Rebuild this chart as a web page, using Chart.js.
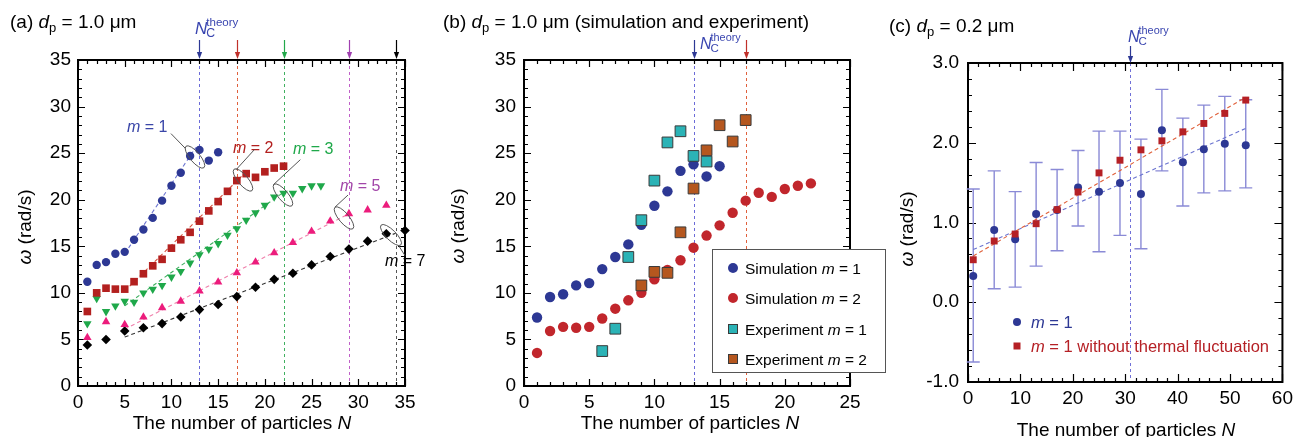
<!DOCTYPE html>
<html><head><meta charset="utf-8">
<script src="https://cdn.jsdelivr.net/npm/chart.js@4.4.0/dist/chart.umd.min.js"></script>
<style>
html,body{margin:0;padding:0;background:#fff;overflow:hidden;width:1298px;height:437px}
canvas{position:absolute;top:0}
</style></head><body>
<canvas id="ca" width="430" height="437" style="left:0px"></canvas>
<canvas id="cb" width="460" height="437" style="left:430px"></canvas>
<canvas id="cc" width="438" height="437" style="left:860px"></canvas>
<script>
// ---------------- Panel (a) data ----------------
const aN1 = [1,2,3,4,5,6,7,8,9,10,11,12,13,14,15];
const aW1 = [11.2,13.0,13.3,14.2,14.4,15.7,16.8,18.05,19.9,21.5,22.9,24.7,25.35,24.2,25.1];
const aN2 = [1,2,3,4,5,6,7,8,9,10,11,12,13,14,15,16,17,18,19,20,21,22];
const aW2 = [8.0,10.0,10.5,10.4,10.4,11.2,12.05,12.9,13.6,14.8,15.7,16.5,17.7,18.8,19.8,20.9,22.05,22.8,22.4,23.0,23.4,23.6];
const aN3 = [1,2,3,4,5,6,7,8,9,10,11,12,13,14,15,16,17,18,19,20,21,22,23,24,25,26];
const aW3 = [6.7,9.4,8.0,8.6,9.1,9.0,10.0,10.4,10.8,11.7,12.3,13.2,14.1,14.7,15.3,16.2,16.9,17.8,18.6,19.4,20.3,20.7,20.7,21.2,21.5,21.5];
const aN5 = [1,3,5,7,9,11,13,15,17,19,21,23,25,27,29,31,33];
const aW5 = [5.2,6.9,6.6,7.4,8.4,9.1,10.2,11.15,12.15,13.3,14.3,15.4,16.6,17.7,18.5,18.9,19.4];
const aN7 = [1,3,5,7,9,11,13,15,17,19,21,23,25,27,29,31,33,35];
const aW7 = [4.4,5.0,5.9,6.25,6.7,7.4,8.2,8.75,9.6,10.6,11.45,12.1,13.0,13.9,14.7,15.55,16.35,16.7];
const aFit1 = [[5,14.2],[12.6,25.6]];
const aFit2 = [[5,10.2],[17.5,22.5]];
const aFit3 = [[5,8.6],[22,20.8]];
const aFit5 = [[5,6.1],[29,18.5]];
const aFit7 = [[5,5.25],[34,16.4]];
const aNc = [13,17,22,29,34];
const aXTicks = [0,35,5,1];   // min, max, major, minor
const aYTicks = [0,35,5,1];

// ---------------- Panel (b) data ----------------
const bN1 = [1,2,3,4,5,6,7,8,9,10,11,12,13,14,15];
const bW1 = [7.35,9.55,9.85,10.8,11.05,12.55,13.85,15.2,17.3,19.35,20.9,23.1,23.8,22.5,23.6];
const bN2 = [1,2,3,4,5,6,7,8,9,10,11,12,13,14,15,16,17,18,19,20,21,22];
const bW2 = [3.55,5.9,6.35,6.25,6.35,7.25,8.3,9.2,10.0,11.45,12.45,13.5,14.85,16.15,17.25,18.6,19.9,20.75,20.3,21.15,21.5,21.75];
const bEN1 = [6,7,8,9,10,11,12,13,14];
const bEW1 = [3.75,6.15,13.85,17.8,22.05,26.15,27.35,24.7,24.1];
const bEN2 = [9,10,11,12,13,14,15,16,17];
const bEW2 = [10.8,12.25,12.15,16.5,21.2,25.3,28.0,26.25,28.55];
const bNc = [13,17];
const bXTicks = [0,25,5,1];
const bYTicks = [0,35,5,1];

// ---------------- Panel (c) data ----------------
const cN = [1,5,9,13,17,21,25,29,33,37,41,45,49,53];
const cW1 = [0.33,0.905,0.79,1.107,1.157,1.438,1.387,1.496,1.358,2.158,1.756,1.919,1.986,1.97];
const cHi = [1.42,1.647,1.387,1.752,1.664,1.903,2.146,2.146,2.045,2.669,2.309,2.472,2.581,2.54];
const cLo = [-0.75,0.169,0.19,0.453,0.646,0.956,0.633,0.839,0.671,1.647,1.207,1.371,1.396,1.434];
const cW2 = [0.533,0.768,0.855,0.985,1.161,1.383,1.622,1.781,1.911,2.024,2.137,2.242,2.368,2.535];
const cFit1 = [[1,0.66],[53,2.18]];
const cFit2 = [[1,0.58],[53,2.57]];
const cNc = [31];
const cXTicks = [0,60,10,2];
const cYTicks = [-1,3,1,0.2];

// ---------------- helpers ----------------
const FF = '"Liberation Sans", Arial, Helvetica, sans-serif';
const BLUE = '#2d3894', RED = '#b3201f', GREEN = '#1fa84a', PINK = '#ec1c7c', PURPLE = '#a246a8';
function pts(xs, ys){ return xs.map((x,i)=>({x:x, y:ys[i]})); }
function seg(a){ return a.map(p=>({x:p[0], y:p[1]})); }
function font(size, it){ return (it?'italic ':'') + size + 'px ' + FF; }
function rich(ctx, parts, x, y, align){
  let w = 0;
  parts.forEach(p=>{ ctx.font = font(p.s, p.i); w += ctx.measureText(p.t).width; });
  if (align === 'center') x -= w/2;
  ctx.textAlign = 'left'; ctx.textBaseline = 'alphabetic';
  parts.forEach(p=>{
    ctx.font = font(p.s, p.i); ctx.fillStyle = p.c || '#000';
    ctx.fillText(p.t, x, y + (p.dy||0)); x += ctx.measureText(p.t).width;
  });
}
function ncLabel(ctx, x, base, size, color){
  ctx.fillStyle = color; ctx.textAlign='left'; ctx.textBaseline='alphabetic';
  ctx.font = font(size, true); ctx.fillText('N', x, base);
  const w = ctx.measureText('N').width - 1;
  ctx.font = font(size*0.68, false); ctx.fillText('theory', x + w, base - size*0.5);
  ctx.font = font(size*0.72, false); ctx.fillText('C', x + w, base + size*0.2);
}
function arrow(ctx, px, y1, y2, color){
  ctx.strokeStyle = color; ctx.fillStyle = color; ctx.lineWidth = 1.2; ctx.setLineDash([]);
  ctx.beginPath(); ctx.moveTo(px, y1); ctx.lineTo(px, y2-5); ctx.stroke();
  ctx.beginPath(); ctx.moveTo(px-2.6, y2-7); ctx.lineTo(px+2.6, y2-7); ctx.lineTo(px, y2); ctx.closePath(); ctx.fill();
}
function frameAndTicks(chart, xt, yt, majL, minL){
  const {ctx, chartArea:ca, scales:{x, y}} = chart;
  ctx.save(); ctx.strokeStyle = '#000'; ctx.setLineDash([]);
  ctx.lineWidth = 1.2;
  let n = Math.round((xt[1]-xt[0])/xt[3]), r = Math.round(xt[2]/xt[3]);
  for (let i=0;i<=n;i++){
    const px = Math.round(x.getPixelForValue(xt[0]+i*xt[3])) + 0.5;
    const L = (i % r === 0) ? majL : minL;
    ctx.beginPath(); ctx.moveTo(px, ca.bottom); ctx.lineTo(px, ca.bottom-L);
    ctx.moveTo(px, ca.top); ctx.lineTo(px, ca.top+L); ctx.stroke();
  }
  n = Math.round((yt[1]-yt[0])/yt[3]); r = Math.round(yt[2]/yt[3]);
  for (let i=0;i<=n;i++){
    const py = Math.round(y.getPixelForValue(yt[0]+i*yt[3])) + 0.5;
    const L = (i % r === 0) ? majL : minL;
    ctx.beginPath(); ctx.moveTo(ca.left, py); ctx.lineTo(ca.left+L, py);
    ctx.moveTo(ca.right, py); ctx.lineTo(ca.right-L, py); ctx.stroke();
  }
  ctx.lineWidth = 2;
  ctx.strokeRect(ca.left, ca.top, ca.right-ca.left, ca.bottom-ca.top);
  ctx.restore();
}
function vlines(chart, list){
  const {ctx, chartArea:ca, scales:{x}} = chart;
  ctx.save(); ctx.lineWidth = 1; ctx.setLineDash([3,3]);
  list.forEach(v=>{
    const px = Math.round(x.getPixelForValue(v.n)) + 0.5;
    ctx.strokeStyle = v.c; ctx.beginPath(); ctx.moveTo(px, ca.top); ctx.lineTo(px, ca.bottom); ctx.stroke();
  });
  ctx.restore();
}
function yTitle(ctx, cx, cy){
  ctx.save(); ctx.translate(cx, cy); ctx.rotate(-Math.PI/2);
  rich(ctx, [{t:'\u03C9', s:19, i:true}, {t:' (rad/s)', s:19}], 0, 6, 'center');
  ctx.restore();
}
function xTitle(ctx, cx, base){
  rich(ctx, [{t:'The number of particles ', s:19}, {t:'N', s:19, i:true}], cx, base, 'center');
}
function fitDS(a, color){
  return {data: seg(a), showLine:true, pointRadius:0, borderColor: color, borderWidth:1.1, borderDash:[4,3], clip:false};
}
function mkScales(xt, yt, yW, xH, xPad, yPad, yFmt){
  return {
    x: {type:'linear', min:xt[0], max:xt[1],
        ticks:{stepSize:xt[2], font:{size:19, family:FF}, color:'#000', padding:xPad, maxRotation:0, autoSkip:false},
        grid:{display:false, drawTicks:false}, border:{display:false},
        afterFit(s){ s.height = xH; }},
    y: {type:'linear', min:yt[0], max:yt[1],
        ticks:{stepSize:yt[2], font:{size:19, family:FF}, color:'#000', padding:yPad, autoSkip:false,
               callback: yFmt || (v=>v)},
        grid:{display:false, drawTicks:false}, border:{display:false},
        afterFit(s){ s.width = yW; }}
  };
}
const common = {responsive:false, animation:false, devicePixelRatio:1, events:[],
  plugins:{legend:{display:false}, tooltip:{enabled:false}}};

// ---------------- Chart (a) ----------------
const annA = [
  {t:'1', c:'#3a46a8', lx:5.24, ly:27.3, l:[[9.95,27.1],[11.5,25.5]], e:[12.52,24.59], ang:50},
  {t:'2', c:RED, lx:16.59, ly:25.0, l:[[18.9,25.4],[16.9,23.2]], e:[17.66,22.12], ang:50},
  {t:'3', c:GREEN, lx:23.0, ly:24.9, l:[[23.8,24.3],[20.9,21.6]], e:[21.94,20.5], ang:50},
  {t:'5', c:PURPLE, lx:28.04, ly:20.94, l:[[28.9,20.5],[27.5,19.2]], e:[28.47,18.04], ang:50},
  {t:'7', c:'#000', lx:32.86, ly:12.88, l:[[34.3,15.1],[35.0,14.0]], e:[33.5,16.21], ang:45}
];
new Chart(document.getElementById('ca'), {
  type:'scatter',
  data:{datasets:[
    {data:pts(aN1,aW1), pointStyle:'circle', pointRadius:4.2, backgroundColor:BLUE, borderWidth:0, clip:false},
    {data:pts(aN2,aW2), pointStyle:'rect', pointRadius:5.4, backgroundColor:RED, borderWidth:0, clip:false},
    {data:pts(aN3,aW3), pointStyle:'triangle', rotation:180, pointRadius:4.9, backgroundColor:GREEN, borderWidth:0, clip:false},
    {data:pts(aN5,aW5), pointStyle:'triangle', pointRadius:4.9, backgroundColor:PINK, borderWidth:0, clip:false},
    {data:pts(aN7,aW7), pointStyle:'rectRot', pointRadius:4.8, backgroundColor:'#000', borderWidth:0, clip:false},
    fitDS(aFit1,'#6b74d0'), fitDS(aFit2,'#d8503c'), fitDS(aFit3,'#3fb060'), fitDS(aFit5,'#f080ac'), fitDS(aFit7,'#333')
  ]},
  options:Object.assign({}, common, {
    layout:{padding:{left:0, top:60, right:25, bottom:0}},
    scales: mkScales(aXTicks, aYTicks, 78, 51, 5, 7)
  }),
  plugins:[{
    id:'decoA',
    beforeDatasetsDraw(chart){
      const cols = ['#6b6bd8','#e0603c','#40b060','#c060c8','#555'];
      vlines(chart, aNc.map((n,i)=>({n:n, c:cols[i]})));
      frameAndTicks(chart, aXTicks, aYTicks, 7, 4);
    },
    afterDraw(chart){
      const {ctx, scales:{x,y}} = chart;
      ctx.save();
      rich(ctx, [{t:'(a) ', s:19}, {t:'d', s:19, i:true}, {t:'p', s:13, dy:4}, {t:' = 1.0 \u03BCm', s:19}], 10, 28);
      const acol = [BLUE,'#c0302a','#22a84a','#a040b0','#000'];
      aNc.forEach((n,i)=>arrow(ctx, Math.round(x.getPixelForValue(n))+0.5, 40, 59, acol[i]));
      ncLabel(ctx, 195, 34, 17, '#3a46b0');
      yTitle(ctx, 25, 227);
      xTitle(ctx, 242, 429);
      annA.forEach(a=>{
        rich(ctx, [{t:'m', s:16, i:true, c:a.c}, {t:' = '+a.t, s:16, c:a.c}], x.getPixelForValue(a.lx), y.getPixelForValue(a.ly));
        ctx.strokeStyle = '#555'; ctx.lineWidth = 1; ctx.setLineDash([]);
        ctx.beginPath(); ctx.moveTo(x.getPixelForValue(a.l[0][0]), y.getPixelForValue(a.l[0][1]));
        ctx.lineTo(x.getPixelForValue(a.l[1][0]), y.getPixelForValue(a.l[1][1])); ctx.stroke();
        ctx.beginPath(); ctx.ellipse(x.getPixelForValue(a.e[0]), y.getPixelForValue(a.e[1]), 14, 5, a.ang*Math.PI/180, 0, 2*Math.PI); ctx.stroke();
      });
      ctx.restore();
    }
  }]
});

// ---------------- Chart (b) ----------------
const TEAL = '#2bb3b6', BROWN = '#b5571f', RED2 = '#c1262c';
new Chart(document.getElementById('cb'), {
  type:'scatter',
  data:{datasets:[
    {data:pts(bEN1,bEW1), pointStyle:'rect', pointRadius:7.6, backgroundColor:TEAL, borderColor:'#3a3a3a', borderWidth:1, clip:false},
    {data:pts(bEN2,bEW2), pointStyle:'rect', pointRadius:7.6, backgroundColor:BROWN, borderColor:'#3a3a3a', borderWidth:1, clip:false},
    {data:pts(bN1,bW1), pointStyle:'circle', pointRadius:5.2, backgroundColor:BLUE, borderWidth:0, clip:false},
    {data:pts(bN2,bW2), pointStyle:'circle', pointRadius:5.2, backgroundColor:RED2, borderWidth:0, clip:false}
  ]},
  options:Object.assign({}, common, {
    layout:{padding:{left:0, top:60, right:40, bottom:0}},
    scales: mkScales(bXTicks, bYTicks, 94, 51, 5, 8)
  }),
  plugins:[{
    id:'decoB',
    beforeDatasetsDraw(chart){
      vlines(chart, [{n:bNc[0], c:'#6b6bd8'}, {n:bNc[1], c:'#e0603c'}]);
      frameAndTicks(chart, bXTicks, bYTicks, 7, 4);
    },
    afterDraw(chart){
      const {ctx, scales:{x}} = chart;
      ctx.save();
      rich(ctx, [{t:'(b) ', s:19}, {t:'d', s:19, i:true}, {t:'p', s:13, dy:4}, {t:' = 1.0 \u03BCm (simulation and experiment)', s:19}], 13, 28);
      arrow(ctx, Math.round(x.getPixelForValue(bNc[0]))+0.5, 40, 59, BLUE);
      arrow(ctx, Math.round(x.getPixelForValue(bNc[1]))+0.5, 40, 59, '#c0302a');
      ncLabel(ctx, 270, 49, 16, '#3a46b0');
      yTitle(ctx, 28, 226);
      xTitle(ctx, 260, 429);
      // legend box
      ctx.fillStyle = '#fff'; ctx.fillRect(282, 249, 173, 123);
      ctx.strokeStyle = '#555'; ctx.lineWidth = 1; ctx.setLineDash([]);
      ctx.strokeRect(282.5, 249.5, 173, 123);
      const rows = [['Simulation ','1','c',BLUE],['Simulation ','2','c',RED2],['Experiment ','1','s',TEAL],['Experiment ','2','s',BROWN]];
      const ys = [268, 298, 329, 359];
      rows.forEach((r,i)=>{
        const cy = ys[i];
        if (r[2]==='c'){ ctx.fillStyle = r[3]; ctx.beginPath(); ctx.arc(303, cy, 5, 0, 2*Math.PI); ctx.fill(); }
        else { ctx.fillStyle = r[3]; ctx.fillRect(298, cy-5, 10, 10); ctx.strokeStyle='#3a3a3a'; ctx.strokeRect(298.5, cy-4.5, 9, 9); }
        rich(ctx, [{t:r[0], s:15.5}, {t:'m', s:15.5, i:true}, {t:' = '+r[1], s:15.5}], 315, cy+5.5);
      });
      ctx.restore();
    }
  }]
});

// ---------------- Chart (c) ----------------
const RED3 = '#b52025';
new Chart(document.getElementById('cc'), {
  type:'scatter',
  data:{datasets:[
    {data:pts(cN,cW2), pointStyle:'rect', pointRadius:4.9, backgroundColor:RED3, borderWidth:0, clip:false},
    {data:pts(cN,cW1), pointStyle:'circle', pointRadius:4, backgroundColor:BLUE, borderWidth:0, clip:false},
    fitDS(cFit2,'#e0603a'), fitDS(cFit1,'#6b74d0')
  ]},
  options:Object.assign({}, common, {
    layout:{padding:{left:0, top:63, right:12, bottom:0}},
    scales: mkScales(cXTicks, cYTicks, 108, 55, 5, 9, v=>v.toFixed(1))
  }),
  plugins:[{
    id:'decoC',
    beforeDatasetsDraw(chart){
      const {ctx, scales:{x,y}} = chart;
      vlines(chart, [{n:cNc[0], c:'#7070d8'}]);
      frameAndTicks(chart, cXTicks, cYTicks, 8, 4);
      ctx.save(); ctx.strokeStyle = '#8a8ad6'; ctx.lineWidth = 1.4; ctx.setLineDash([]);
      cN.forEach((n,i)=>{
        const px = x.getPixelForValue(n), y1 = y.getPixelForValue(cHi[i]), y2 = y.getPixelForValue(cLo[i]);
        ctx.beginPath(); ctx.moveTo(px, y1); ctx.lineTo(px, y2);
        ctx.moveTo(px-6.5, y1); ctx.lineTo(px+6.5, y1);
        ctx.moveTo(px-6.5, y2); ctx.lineTo(px+6.5, y2); ctx.stroke();
      });
      ctx.restore();
    },
    afterDraw(chart){
      const {ctx, scales:{x}} = chart;
      ctx.save();
      rich(ctx, [{t:'(c) ', s:19}, {t:'d', s:19, i:true}, {t:'p', s:13, dy:4}, {t:' = 0.2 \u03BCm', s:19}], 29, 32);
      arrow(ctx, Math.round(x.getPixelForValue(cNc[0]))+0.5, 46, 63, BLUE);
      ncLabel(ctx, 268, 42, 16, '#3a46b0');
      yTitle(ctx, 47, 229);
      xTitle(ctx, 266, 436);
      ctx.fillStyle = BLUE; ctx.beginPath(); ctx.arc(157, 322, 4, 0, 2*Math.PI); ctx.fill();
      rich(ctx, [{t:'m', s:16.5, i:true, c:BLUE}, {t:' = 1', s:16.5, c:BLUE}], 171, 328);
      ctx.fillStyle = RED3; ctx.fillRect(153.5, 342.5, 7, 7);
      rich(ctx, [{t:'m', s:16.5, i:true, c:RED3}, {t:' = 1 without thermal fluctuation', s:16.5, c:RED3}], 171, 352);
      ctx.restore();
    }
  }]
});
</script>
</body></html>
